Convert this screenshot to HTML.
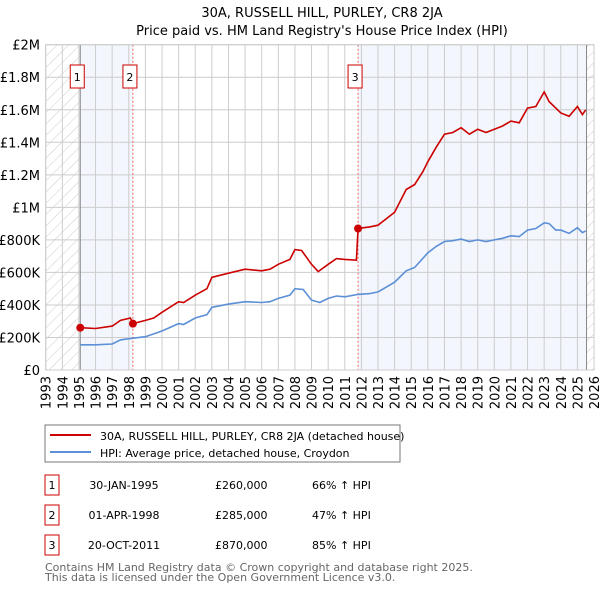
<!DOCTYPE html>
<html><head><meta charset="utf-8"><style>
body{margin:0;background:#fff;font-family:"DejaVu Sans","Liberation Sans",sans-serif;}
svg text{font-family:"DejaVu Sans","Liberation Sans",sans-serif;}
</style></head><body>
<svg id="chart" width="600" height="590" xmlns="http://www.w3.org/2000/svg">
<defs><pattern id="hatch" width="8" height="8" patternUnits="userSpaceOnUse" patternTransform="rotate(-45)"><line x1="0" y1="0" x2="0" y2="8" stroke="#ccc" stroke-width="1" transform="rotate(90 4 4)"/></pattern></defs>
<text x="322" y="17" font-size="13" text-anchor="middle">30A, RUSSELL HILL, PURLEY, CR8 2JA</text>
<text x="322" y="35" font-size="13" text-anchor="middle">Price paid vs. HM Land Registry's House Price Index (HPI)</text>
<g id="plot"></g>
<rect x="45" y="425" width="355" height="37" fill="#fff" stroke="#777"/>
<line x1="50" y1="435" x2="91" y2="435" stroke="#cc0000" stroke-width="2"/>
<text x="100" y="440" font-size="11">30A, RUSSELL HILL, PURLEY, CR8 2JA (detached house)</text>
<line x1="50" y1="452" x2="91" y2="452" stroke="#5b8fd6" stroke-width="2"/>
<text x="100" y="457" font-size="11">HPI: Average price, detached house, Croydon</text>
<g id="table" font-size="11"></g>
<text x="45" y="571" font-size="11" fill="#666">Contains HM Land Registry data © Crown copyright and database right 2025.</text>
<text x="45" y="581" font-size="11" fill="#666">This data is licensed under the Open Government Licence v3.0.</text>
</svg>
<script>
const yTicks=[0,200,400,600,800,1000,1200,1400,1600,1800,2000];
const yTickLabels=["£0","£200K","£400K","£600K","£800K","£1M","£1.2M","£1.4M","£1.6M","£1.8M","£2M"];
const years=[1993,1994,1995,1996,1997,1998,1999,2000,2001,2002,2003,2004,2005,2006,2007,2008,2009,2010,2011,2012,2013,2014,2015,2016,2017,2018,2019,2020,2021,2022,2023,2024,2025,2026];
const hpiT=[1995.08,1996,1997,1997.5,1998.2,1999,2000,2001,2001.3,2002,2002.7,2003,2004,2005,2006,2006.5,2007,2007.7,2008,2008.5,2009,2009.5,2010,2010.5,2011,2011.8,2012.5,2013,2014,2014.7,2015.2,2016,2016.5,2017,2017.5,2018,2018.5,2019,2019.5,2020,2020.5,2021,2021.5,2022,2022.5,2023,2023.3,2023.7,2024,2024.5,2025,2025.3,2025.5];
const hpiV=[155,155,160,185,195,205,240,285,280,320,340,385,405,420,415,420,440,460,500,495,430,415,440,455,450,465,470,480,540,610,630,720,760,790,795,805,790,800,790,800,810,825,820,860,870,905,900,860,860,840,875,845,855];
const priceT=[1995.08,1996,1997,1997.5,1998.1,1998.25,1999,1999.5,2000,2001,2001.3,2002,2002.7,2003,2004,2005,2006,2006.5,2007,2007.7,2008,2008.4,2009,2009.4,2010,2010.5,2011,2011.7,2011.8,2012.5,2013,2013.5,2014,2014.7,2015.2,2015.7,2016,2016.5,2017,2017.5,2018,2018.5,2019,2019.5,2020,2020.5,2021,2021.5,2022,2022.5,2023,2023.3,2023.7,2024,2024.5,2025,2025.3,2025.5];
const priceV=[260,255,270,305,320,285,305,320,355,420,415,460,500,570,595,620,610,620,650,680,740,735,650,605,650,685,680,675,870,880,890,930,970,1110,1140,1220,1280,1370,1450,1460,1490,1450,1480,1460,1480,1500,1530,1520,1610,1620,1710,1650,1610,1580,1560,1620,1570,1600];
const saleT=[1995.08,1998.25,2011.8];
const saleV=[260,285,870];
const saleLabels=["1","2","3"];
const saleDates=["30-JAN-1995","01-APR-1998","20-OCT-2011"];
const salePrices=["£260,000","£285,000","£870,000"];
const saleHpi=["66% ↑ HPI","47% ↑ HPI","85% ↑ HPI"];

const NS="http://www.w3.org/2000/svg";
const X0=45.7,X1=594,Y0=370,Y1=44.7;
const xs=t=>X0+(t-1993)/(2026-1993)*(X1-X0);
const ys=v=>Y0-v/2000*(Y0-Y1);
const plot=document.getElementById('plot');
function mk(tag,attrs,parent){const e=document.createElementNS(NS,tag);for(const k in attrs)e.setAttribute(k,attrs[k]);(parent||plot).appendChild(e);return e;}
let e;
e=mk('rect',{x:X0,y:Y1,width:X1-X0,height:Y0-Y1,fill:'#fff'});


e=mk('rect',{x:xs(1995.08),y:Y1,width:xs(1998.25)-xs(1995.08),height:Y0-Y1,fill:'#f3f6fd'});


e=mk('rect',{x:xs(2011.8),y:Y1,width:xs(2025.55)-xs(2011.8),height:Y0-Y1,fill:'#f3f6fd'});


e=mk('rect',{x:X0,y:Y1,width:xs(1995.08)-X0,height:Y0-Y1,fill:'url(#hatch)'});


e=mk('rect',{x:xs(2025.55),y:Y1,width:X1-xs(2025.55),height:Y0-Y1,fill:'url(#hatch)'});


yTicks.forEach((v,i)=>{
  e=mk('line',{x1:X0,x2:X1,y1:ys(v),y2:ys(v),stroke:'#ccc'});
  
  
  e=mk('text',{x:40,y:ys(v)+5,'font-size':13,'text-anchor':'end'});
  e.textContent=yTickLabels[i];
  
  
});
years.forEach(yr=>{
  e=mk('line',{x1:xs(yr),x2:xs(yr),y1:Y1,y2:Y0,stroke:'#ccc'});
  
  
  e=mk('text',{x:0,y:0,'font-size':13,'text-anchor':'end',transform:`translate(${xs(yr)+5},376) rotate(-90)`});
  e.textContent=yr;
  
  
});
e=mk('line',{x1:xs(1995.08),x2:xs(1995.08),y1:Y1,y2:Y0,stroke:'#888'});


e=mk('line',{x1:xs(2025.55),x2:xs(2025.55),y1:Y1,y2:Y0,stroke:'#888'});


saleT.forEach((t,i)=>{
  if(i>0){e=mk('line',{x1:xs(t),x2:xs(t),y1:Y1,y2:Y0,stroke:'#e66','stroke-dasharray':'2,2'});
  
  }
});
e=mk('rect',{x:X0,y:Y1,width:X1-X0,height:Y0-Y1,fill:'none',stroke:'#ccc'});


const path=(T,V)=>T.map((t,i)=>(i?'L':'M')+xs(t).toFixed(1)+','+ys(V[i]).toFixed(1)).join('');
e=mk('path',{d:path(hpiT,hpiV),fill:'none',stroke:'#5b8fd6','stroke-width':1.6});


e=mk('path',{d:path(priceT,priceV),fill:'none',stroke:'#cc0000','stroke-width':1.6});


saleT.forEach((t,i)=>{
  e=mk('circle',{cx:xs(t),cy:ys(saleV[i]),r:4,fill:'#cc0000'});
  
  
  const bx=xs(t)-10;
  e=mk('rect',{x:bx,y:65,width:14,height:23,fill:'#fff',stroke:'#cc0000'});
  
  
  e=mk('text',{x:bx+7,y:81,'font-size':11,'text-anchor':'middle'});
  e.textContent=saleLabels[i];
  
  
});
const tbl=document.getElementById('table');
saleLabels.forEach((l,i)=>{
  const y=475+i*30;
  e=mk('rect',{x:45,y:y,width:14,height:20,fill:'#fff',stroke:'#cc0000'},tbl);
  
  
  e=mk('text',{x:52,y:y+14,'text-anchor':'middle'},tbl);e.textContent=l;
  
  
  e=mk('text',{x:124,y:y+14,'text-anchor':'middle'},tbl);e.textContent=saleDates[i];
  
  
  e=mk('text',{x:215,y:y+14},tbl);e.textContent=salePrices[i];
  
  
  e=mk('text',{x:312,y:y+14},tbl);e.textContent=saleHpi[i];
  
  
});
</script>
</body></html>
